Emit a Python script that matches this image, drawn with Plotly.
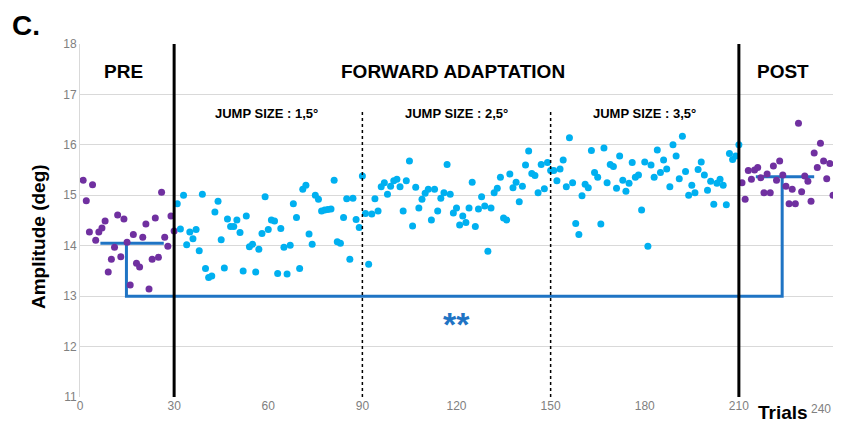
import plotly.graph_objects as go

# ---------------- data ----------------
pre_trials = list(range(1, 31))
pre_amp = [15.30, 14.89, 14.27, 15.21, 14.11, 14.27, 14.35, 14.49, 13.48, 13.73,
           13.97, 14.61, 13.78, 14.53, 14.07, 13.22, 14.22, 13.65, 13.58, 14.17,
           14.43, 13.14, 13.73, 14.55, 13.77, 15.06, 14.17, 13.99, 14.59, 14.29]

adapt_trials = list(range(31, 211))
adapt_amp = [
    14.83, 14.33, 15.00, 14.02, 14.27, 14.14, 14.32, 13.90, 15.02, 13.55,   # 31-40
    13.37, 13.40, 14.67, 14.88, 14.12, 13.56, 14.53, 14.38, 14.38, 14.51,   # 41-50
    14.26, 13.50, 14.59, 13.98, 14.03, 13.48, 13.93, 14.24, 14.97, 14.32,   # 51-60
    14.51, 14.49, 13.45, 14.34, 13.97, 13.44, 14.01, 14.83, 14.56, 13.55,   # 61-70
    15.12, 15.20, 14.23, 14.03, 15.00, 14.92, 14.69, 14.71, 14.72, 14.73,   # 71-80
    15.30, 14.08, 14.05, 14.56, 14.93, 13.73, 14.94, 14.52, 14.36, 15.38,   # 81-90
    14.64, 13.63, 14.63, 14.93, 14.69, 15.17, 15.25, 15.02, 15.18, 15.29,   # 91-100
    15.32, 15.17, 14.69, 15.29, 15.68, 14.39, 15.16, 14.75, 14.92, 15.04,   # 101-110
    15.12, 14.51, 15.12, 14.69, 14.94, 15.05, 15.61, 15.02, 14.65, 14.75,   # 111-120
    14.41, 14.59, 14.46, 14.75, 15.26, 14.38, 14.73, 14.97, 14.79, 13.89,   # 121-130
    14.75, 15.05, 15.14, 15.36, 14.55, 14.51, 15.42, 15.15, 15.26, 14.87,   # 131-140
    15.18, 15.60, 15.88, 15.43, 15.39, 15.05, 15.61, 15.13, 15.65, 15.49,   # 141-150
    15.49, 15.29, 15.52, 15.70, 15.17, 16.14, 15.25, 14.44, 14.22, 14.99,   # 151-160
    15.22, 15.15, 15.89, 15.45, 15.36, 14.43, 15.94, 15.25, 15.61, 15.57,   # 161-170
    15.14, 15.78, 15.30, 15.08, 15.24, 15.65, 15.36, 15.40, 14.71, 15.66,   # 171-180
    13.99, 15.60, 15.36, 15.90, 15.45, 15.70, 15.52, 15.17, 16.00, 15.78,   # 181-190
    15.33, 16.17, 15.47, 15.00, 15.20, 15.05, 15.51, 15.66, 15.40, 15.10,   # 191-200
    15.28, 14.82, 15.24, 15.32, 15.20, 14.81, 15.83, 15.71, 15.78, 16.00,   # 201-210
]

post_trials = list(range(211, 241))
post_amp = [15.25, 14.92, 15.49, 15.32, 15.50, 15.55, 15.35, 15.05, 15.42, 15.05,
            15.58, 15.30, 15.68, 15.40, 15.18, 14.83, 15.12, 14.83, 16.43, 15.07,
            15.38, 15.28, 14.88, 15.84, 15.55, 16.03, 15.68, 15.33, 15.63, 15.00]

# phase boundaries and jump-size blocks
phase_bounds = [30, 210]
block_bounds = [90, 150]
x_ticks = [0, 30, 60, 90, 120, 150, 180, 210]
x_last_tick = 240

# mean lines / significance bracket
pre_mean = 14.05
post_mean = 15.37
pre_mean_span = [6.5, 26.7]
post_mean_span = [215.4, 234.0]
bracket_x = [14.8, 223.8]
bracket_base = 13.0

PURPLE = "#7030A0"
LIGHTBLUE = "#00B0F0"
BRACKET = "#1F74C4"
TXT_FONT = "Liberation Sans, Arial, sans-serif"
TICK_FONT = "Liberation Sans Narrow, Arial Narrow, Liberation Sans, sans-serif"
TICK_COLOR = "#808080"

# The page body has an 8px margin, so the figure is made 8px smaller
BODY = 8
W, H = 841 - BODY, 427 - BODY
PLOT_L, PLOT_R, PLOT_T, PLOT_B = 80, 833, 44, 397   # plot area in screen pixels

fig = go.Figure()

fig.add_trace(go.Scatter(
    x=[pre_mean_span[0], pre_mean_span[1], None,
       bracket_x[0], bracket_x[0], bracket_x[1], bracket_x[1], None,
       post_mean_span[0], post_mean_span[1]],
    y=[pre_mean, pre_mean, None,
       pre_mean, bracket_base, bracket_base, post_mean, None,
       post_mean, post_mean],
    mode="lines", line=dict(color=BRACKET, width=3), hoverinfo="skip",
    showlegend=False))

marker_size = 7
fig.add_trace(go.Scatter(x=pre_trials, y=pre_amp, mode="markers",
                         marker=dict(color=PURPLE, size=marker_size), showlegend=False))
fig.add_trace(go.Scatter(x=adapt_trials, y=adapt_amp, mode="markers",
                         marker=dict(color=LIGHTBLUE, size=marker_size), showlegend=False))
fig.add_trace(go.Scatter(x=post_trials, y=post_amp, mode="markers",
                         marker=dict(color=PURPLE, size=marker_size), showlegend=False))

shapes = []
for xb in phase_bounds:
    shapes.append(dict(type="line", xref="x", yref="y", x0=xb, x1=xb, y0=11, y1=18,
                       line=dict(color="black", width=3)))
for xb in block_bounds:
    shapes.append(dict(type="line", xref="x", yref="y", x0=xb, x1=xb, y0=11, y1=16.65,
                       line=dict(color="black", width=1.5, dash="dot")))

fig.update_layout(
    width=W, height=H,
    margin=dict(l=PLOT_L - BODY, r=(W + BODY) - PLOT_R, t=PLOT_T - BODY, b=(H + BODY) - PLOT_B),
    paper_bgcolor="white", plot_bgcolor="white",
    xaxis=dict(range=[0, 240], tickvals=x_ticks, showgrid=False, zeroline=False,
               showline=False, ticks="", automargin=False,
               tickfont=dict(family=TICK_FONT, size=12, color=TICK_COLOR)),
    yaxis=dict(range=[11, 18], dtick=1, showgrid=True, gridcolor="#D9D9D9", gridwidth=1,
               zeroline=False, showline=True, linecolor="#D9D9D9", linewidth=1, ticks="",
               automargin=False,
               tickfont=dict(family=TICK_FONT, size=12, color=TICK_COLOR)),
    shapes=shapes,
)

def add_text(txt, x, y, size, color="black"):
    fig.add_annotation(text=txt, x=x, y=y, xref="x", yref="y", showarrow=False,
                       font=dict(family=TXT_FONT, size=size, color=color),
                       xanchor="center", yanchor="middle")

add_text("<b>PRE</b>", 14, 17.45, 19)
add_text("<b>FORWARD ADAPTATION</b>", 119, 17.45, 19)
add_text("<b>POST</b>", 224, 17.45, 19)
add_text("<b>JUMP SIZE : 1,5°</b>", 59.5, 16.62, 13)
add_text("<b>JUMP SIZE : 2,5°</b>", 120, 16.62, 13)
add_text("<b>JUMP SIZE : 3,5°</b>", 180, 16.62, 13)
add_text("<b>**</b>", 120, 12.45, 34, color=BRACKET)

def px_x(px):
    return (px - PLOT_L) / (PLOT_R - PLOT_L)

def px_y(py):
    return (PLOT_B - py) / (PLOT_B - PLOT_T)

# last x tick label, kept inside the visible page edge
fig.add_annotation(text=str(x_last_tick), x=px_x(832), y=px_y(PLOT_B + 12),
                   xref="paper", yref="paper", showarrow=False, xanchor="right", yanchor="middle",
                   borderpad=0, font=dict(family=TICK_FONT, size=12, color=TICK_COLOR))

fig.add_annotation(text="<b>C.</b>", x=px_x(11), y=px_y(BODY + 1),
                   xref="paper", yref="paper", showarrow=False, xanchor="left", yanchor="top",
                   borderpad=0,
                   font=dict(family=TXT_FONT, size=28, color="black"))
fig.add_annotation(text="<b>Amplitude (deg)</b>", x=px_x(38), y=px_y(237),
                   xref="paper", yref="paper", showarrow=False, textangle=-90,
                   xanchor="center", yanchor="middle",
                   font=dict(family=TXT_FONT, size=19, color="black"))
fig.add_annotation(text="<b>Trials</b>", x=px_x(783), y=px_y(413),
                   xref="paper", yref="paper", showarrow=False,
                   xanchor="center", yanchor="middle",
                   font=dict(family=TXT_FONT, size=19, color="black"))

fig.write_html("out.html")
